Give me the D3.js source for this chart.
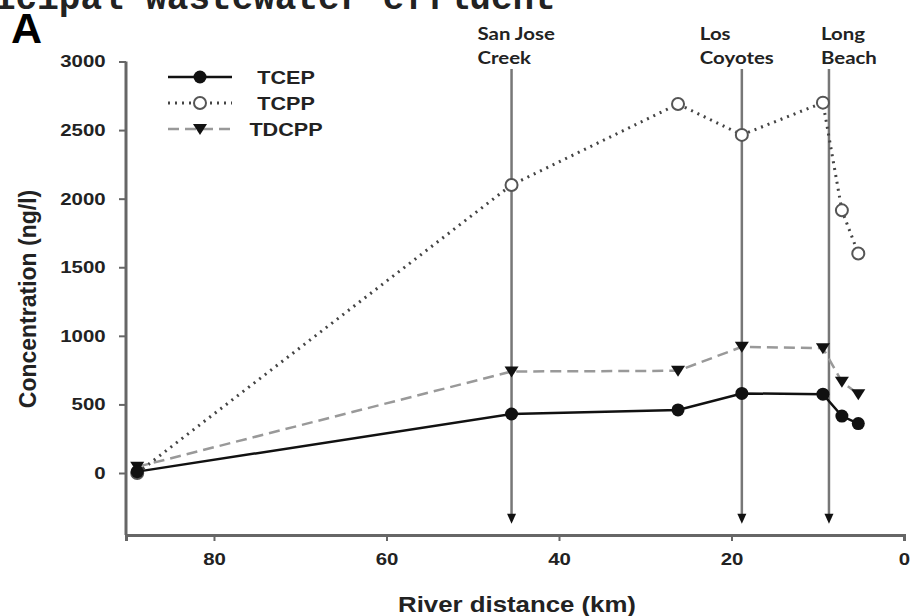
<!DOCTYPE html>
<html>
<head>
<meta charset="utf-8">
<script src="https://cdn.jsdelivr.net/npm/d3@7"></script>
<style>
  body { margin: 0; background: #fff; }
  svg { display: block; }
</style>
</head>
<body>
<div id="chart"></div>
<script>
// River distance (km) of each sampling site, upstream to downstream
const distanceKm = [88.9, 45.5, 26.2, 18.8, 9.4, 7.2, 5.3];
// Concentrations (ng/l)
const tcepValues = [10, 430, 460, 580, 575, 415, 360];
const tcppValues = [0, 2100, 2690, 2465, 2700, 1915, 1600];
const tdcppValues = [45, 740, 745, 920, 910, 665, 575];

const seriesNames = ["TCEP", "TCPP", "TDCPP"];
const yTickValues = [0, 500, 1000, 1500, 2000, 2500, 3000];
const xTickValues = [80, 60, 40, 20, 0];

// Treatment plant outfalls
const plantNames = [["San Jose", "Creek"], ["Los", "Coyotes"], ["Long", "Beach"]];
const plantKm = [45.5, 18.8, 8.7];

const width = 910;
const height = 616;
const stretch = 1.2; // the source picture is a bit wider than tall

const x = d3.scaleLinear().domain([90.2, 0]).range([126, 904]);
const y = d3.scaleLinear().domain([-452, 3000]).range([535, 61.5]);

const svg = d3.select("#chart")
  .append("svg")
  .attr("width", width)
  .attr("height", height)
  .attr("viewBox", [0, 0, width, height])
  .style("font-family", "'Liberation Sans', Arial, sans-serif");

// helper for horizontally stretched text
function stretchedText(g, px, py, txt) {
  return g.append("text")
    .attr("transform", `translate(${px},${py}) scale(${stretch},1)`)
    .text(txt);
}

// cut-off heading at the very top
svg.append("text")
  .attr("x", -6)
  .attr("y", 9)
  .style("font-family", "'Liberation Mono', 'Courier New', monospace")
  .style("font-weight", "bold")
  .style("font-size", "36px")
  .attr("fill", "#222")
  .text("icipal wastewater effluent");

// panel letter
svg.append("text")
  .attr("x", 11)
  .attr("y", 43)
  .style("font-weight", "bold")
  .style("font-size", "43px")
  .text("A");

// station lines with arrows
const stations = svg.append("g");
const labelShift = [-34, -42, -8];
plantKm.forEach((km, i) => {
  const px = x(km);
  stations.append("line")
    .attr("x1", px).attr("x2", px)
    .attr("y1", 69).attr("y2", y(-330))
    .attr("stroke", "#777")
    .attr("stroke-width", 2.5);
  const tip = y(-370);
  stations.append("path")
    .attr("d", `M${px - 4.5},${tip - 10}L${px + 4.5},${tip - 10}L${px},${tip}Z`)
    .attr("fill", "#111");
  const lbl = stations.append("g")
    .style("font-family", "Lato, 'Open Sans', sans-serif")
    .style("font-weight", "bold")
    .style("font-size", "17px")
    .attr("fill", "#222");
  stretchedText(lbl, px + labelShift[i], 40, plantNames[i][0]);
  stretchedText(lbl, px + labelShift[i], 64, plantNames[i][1]);
});

// axes
const yAxis = svg.append("g")
  .attr("transform", `translate(${x(90.2)},0)`)
  .call(d3.axisLeft(y).tickValues(yTickValues).tickFormat(d3.format("d"))
    .tickSize(7).tickPadding(10));
yAxis.select(".domain").attr("d", `M0,${y(3000)}V${y(-452)}`);

const xAxis = svg.append("g")
  .attr("transform", `translate(0,${y(-452)})`)
  .call(d3.axisBottom(x).tickValues(xTickValues).tickSize(6).tickPadding(12));

[xAxis, yAxis].forEach(axis => {
  axis.select(".domain").attr("stroke", "#666").attr("stroke-width", 3);
  axis.selectAll(".tick line").attr("stroke", "#666").attr("stroke-width", 2);
  axis.selectAll(".tick text")
    .attr("fill", "#222")
    .style("font-size", "17px")
    .style("font-weight", "bold")
    .style("font-family", "'Liberation Sans', Arial, sans-serif")
    .attr("transform", `scale(${stretch},1)`);
});

// axis titles
svg.append("text")
  .attr("transform", "translate(36,299) rotate(-90)")
  .attr("text-anchor", "middle")
  .style("font-size", "23px")
  .style("font-weight", "bold")
  .attr("fill", "#222")
  .text("Concentration (ng/l)");

svg.append("text")
  .attr("transform", `translate(517,612) scale(${stretch},1)`)
  .attr("text-anchor", "middle")
  .style("font-size", "21.5px")
  .style("font-weight", "bold")
  .attr("fill", "#222")
  .text("River distance (km)");

// series
const styles = {
  TCEP: { values: tcepValues, stroke: "#111", dash: null, width: 2.5 },
  TCPP: { values: tcppValues, stroke: "#444", dash: "2,5", width: 3 },
  TDCPP: { values: tdcppValues, stroke: "#999", dash: "11,6", width: 2.5 }
};

const line = d3.line()
  .x(d => x(d[0]))
  .y(d => y(d[1]));

function drawMarker(g, name, px, py) {
  if (name === "TCEP") {
    g.append("circle").attr("cx", px).attr("cy", py).attr("r", 6.5).attr("fill", "#111");
  } else if (name === "TCPP") {
    g.append("circle").attr("cx", px).attr("cy", py).attr("r", 6)
      .attr("fill", "#fff").attr("stroke", "#555").attr("stroke-width", 2);
  } else {
    g.append("path")
      .attr("d", `M${px - 7},${py - 5}L${px + 7},${py - 5}L${px},${py + 6}Z`)
      .attr("fill", "#111");
  }
}

["TDCPP", "TCPP", "TCEP"].forEach(name => {
  const s = styles[name];
  const pts = distanceKm.map((d, i) => [d, s.values[i]]);
  svg.append("path")
    .datum(pts)
    .attr("fill", "none")
    .attr("stroke", s.stroke)
    .attr("stroke-width", s.width)
    .attr("stroke-dasharray", s.dash)
    .attr("d", line);
  const g = svg.append("g");
  pts.forEach(p => drawMarker(g, name, x(p[0]), y(p[1])));
});

// legend
const legend = svg.append("g");
seriesNames.forEach((name, i) => {
  const s = styles[name];
  const ly = 77 + i * 26;
  legend.append("line")
    .attr("x1", 168).attr("x2", 232)
    .attr("y1", ly).attr("y2", ly)
    .attr("stroke", s.stroke)
    .attr("stroke-width", s.width)
    .attr("stroke-dasharray", s.dash);
  drawMarker(legend, name, 200, ly);
  stretchedText(legend, 286, ly + 7, name)
    .attr("text-anchor", "middle")
    .style("font-size", "18px")
    .style("font-weight", "bold")
    .attr("fill", "#222");
});
</script>
</body>
</html>
